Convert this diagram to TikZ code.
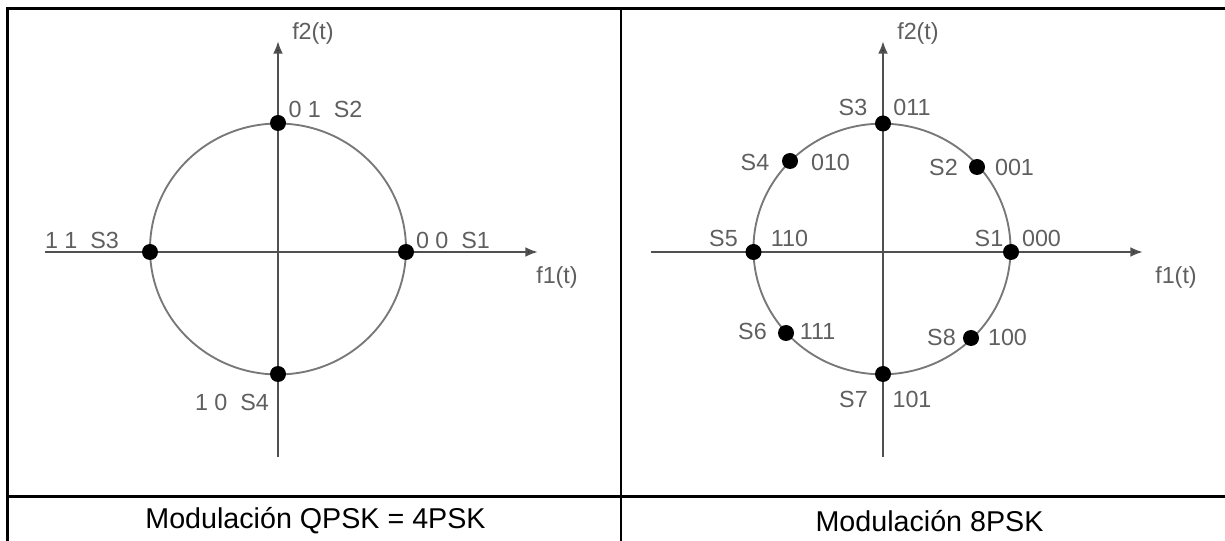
\documentclass[tikz,border=0pt]{standalone}
\usepackage{fontspec}
\setmainfont{Liberation Sans}
\usetikzlibrary{arrows.meta,positioning,calc}
\definecolor{axisgray}{RGB}{80,80,80}
\definecolor{ringgray}{RGB}{120,120,120}
\definecolor{lblgray}{RGB}{95,95,95}
\tikzset{
  % Table rules round the two panels
  tablerule/.style={line width=2.2pt, draw=black},
  % Signal-space axes, arrow at the positive end
  sigaxis/.style={-{Latex[length=9.5pt,width=7.5pt,fill=black]}, line width=2pt, draw=axisgray},
  % Constellation ring
  ring/.style={draw=ringgray, line width=1.4pt},
  % Constellation point
  symdot/.style={circle, fill=black, inner sep=0pt, minimum size=12pt},
  % Point and axis labels
  lbl/.style={font=\fontsize{17.5}{20}\selectfont, text=lblgray, inner sep=1pt},
  % Caption under each panel
  panelcap/.style={font=\fontsize{21.5}{26}\selectfont}
}

\begin{document}
\begin{tikzpicture}[x=0.75pt, y=-0.75pt]
\useasboundingbox (0,0) rectangle (1225,541);

% ============== TABLE FRAME ==============
\draw[tablerule] (7.5,541) -- (7.5,8.5) -- (1226,8.5);
\draw[tablerule] (621,8.5) -- (621,541);
\draw[tablerule] (7.5,496.5) -- (1226,496.5);

% ============== LEFT PANEL: QPSK ==============
\coordinate (q-west)  at (45,252);
\coordinate (q-east)  at (538,252);
\coordinate (q-south) at (278,457);
\coordinate (q-north) at (278,41);
\draw[ring] (278,249) ellipse [x radius=96pt, y radius=94.1pt];
\draw[sigaxis] (q-west) -- (q-east);
\draw[sigaxis] (q-south) -- (q-north);

\node[symdot] (q-s1) at (406,252) {};
\node[symdot] (q-s2) at (278,123) {};
\node[symdot] (q-s3) at (150,252) {};
\node[symdot] (q-s4) at (278,374) {};

\node[lbl] (q-l1) at (453,240) {0 0~~S1};
\node[lbl] (q-l2) at (325.5,109) {0 1~~S2};
\node[lbl] (q-l3) at (82,240) {1 1~~S3};
\node[lbl] (q-l4) at (232,402) {1 0~~S4};
\node[lbl] (q-f2) at (313,33) {f2(t)};
\node[lbl] (q-f1) at (557,277) {f1(t)};

\node[panelcap] (cap-qpsk) at (315.5,521) {Modulación QPSK = 4PSK};

% ============== RIGHT PANEL: 8PSK ==============
\coordinate (e-west)  at (651,252);
\coordinate (e-east)  at (1143,252);
\coordinate (e-south) at (883,457);
\coordinate (e-north) at (883,41);
\draw[ring] (882,249) ellipse [x radius=96.4pt, y radius=94pt];
\draw[sigaxis] (e-west) -- (e-east);
\draw[sigaxis] (e-south) -- (e-north);

\node[symdot] (e-s1) at (1011,252) {};
\node[symdot] (e-s2) at (977,167) {};
\node[symdot] (e-s3) at (883,123.5) {};
\node[symdot] (e-s4) at (790,161) {};
\node[symdot] (e-s5) at (753.5,252) {};
\node[symdot] (e-s6) at (786,333) {};
\node[symdot] (e-s7) at (883,374) {};
\node[symdot] (e-s8) at (971,338) {};

\node[lbl] (e-n1) at (989,238) {S1};
\node[lbl] (e-b1) at (1041.5,238) {000};
\node[lbl] (e-n2) at (943.5,167.5) {S2};
\node[lbl] (e-b2) at (1014.5,167.5) {001};
\node[lbl] (e-n3) at (853,107) {S3};
\node[lbl] (e-b3) at (912,107) {011};
\node[lbl] (e-n4) at (755,162) {S4};
\node[lbl] (e-b4) at (830.5,162) {010};
\node[lbl] (e-n5) at (723.5,238) {S5};
\node[lbl] (e-b5) at (789.5,238) {110};
\node[lbl] (e-n6) at (752.5,331) {S6};
\node[lbl] (e-b6) at (817.5,331) {111};
\node[lbl] (e-n7) at (853.5,399.5) {S7};
\node[lbl] (e-b7) at (912,399.5) {101};
\node[lbl] (e-n8) at (941.5,337) {S8};
\node[lbl] (e-b8) at (1007.5,337) {100};
\node[lbl] (e-f2) at (918,33) {f2(t)};
\node[lbl] (e-f1) at (1176,277) {f1(t)};

\node[panelcap] (cap-8psk) at (929.5,521) {Modulación 8PSK};

\end{tikzpicture}
\end{document}
